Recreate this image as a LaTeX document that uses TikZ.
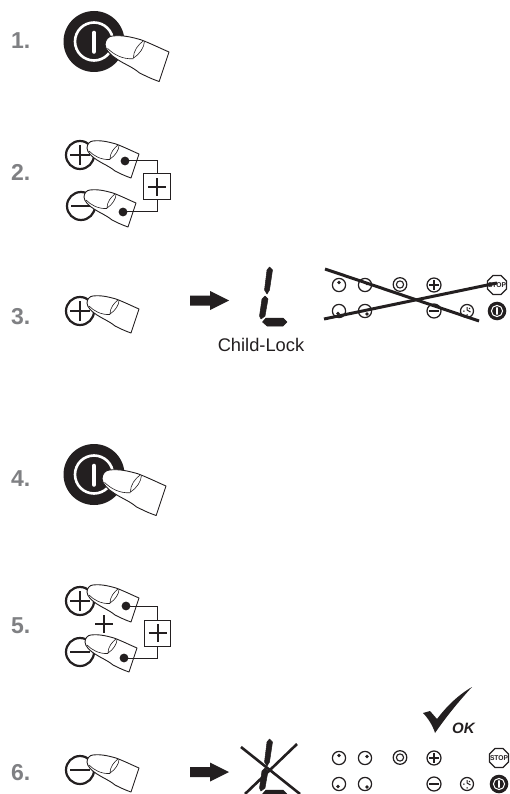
\documentclass[tikz,border=0pt]{standalone}
\usepackage{fontspec}
\setmainfont{Liberation Sans}
\definecolor{ink}{HTML}{231F20}
\definecolor{stepgray}{HTML}{7F8083}
\tikzset{
  x=1pt,y=-1pt,
  steplabel/.style={anchor=base west,inner sep=0pt,text=stepgray,font=\fontsize{23}{23}\selectfont\bfseries},
  fingerline/.style={draw=ink,line width=0.9pt,fill=white,line join=round},
  fingerthin/.style={draw=ink,line width=0.6pt},
  wire/.style={draw=ink,line width=1pt},
  wirebox/.style={draw=ink,line width=1pt,minimum width=26.5pt,minimum height=26pt,inner sep=0pt,fill=white},
  bigplus/.style={draw=ink,line width=2pt},
  ringbtn/.style={draw=ink,line width=2.2pt,fill=white},
  panelbtn/.style={draw=ink,line width=1.25pt,fill=white},
  crossline/.style={draw=ink,line width=3pt},
  segment/.style={fill=ink,draw=ink,line width=0.5pt,line join=round}
}
% finger: #1 x, #2 y of the upper right corner, #3 scale
\newcommand{\fingerat}[3]{%
  \begin{scope}[shift={(#1,#2)},scale=#3]
    \path[fingerline] (-46,-13) .. controls (-38,-14) and (-30,-12) .. (-23,-10)
      .. controls (-15,-7) and (-7,-3) .. (0,0) -- (-8,24)
      .. controls (-14,22) and (-20,19) .. (-24,17)
      .. controls (-30,12) and (-36,10) .. (-42,6)
      .. controls (-47,3) and (-52,-2) .. (-52,-6)
      .. controls (-52,-10) and (-49,-13) .. (-46,-13) -- cycle;
    \draw[fingerthin] (-21,-9) .. controls (-25,-6) and (-29,-1) .. (-29,5);
    \draw[fingerthin] (-20,-8.5) .. controls (-20,-4) and (-24,2) .. (-29,5);
    \draw[fingerthin] (-50,-3) .. controls (-45,2) and (-38,6) .. (-29,5.5);
  \end{scope}}
% large power button
\newcommand{\bigpower}[2]{%
  \fill[ink] (#1,#2) circle[radius=30.5];
  \draw[white,line width=2.6pt] (#1,#2) circle[radius=19];
  \draw[white,line width=4.6pt,line cap=round] (#1,#2-8.5) -- (#1,#2+10);}
\newcommand{\plusbtn}[2]{%
  \draw[ringbtn] (#1,#2) circle[radius=14];
  \draw[bigplus] (#1-10,#2) -- (#1+10,#2) (#1,#2-10) -- (#1,#2+10);}
\newcommand{\minusbtn}[2]{%
  \draw[ringbtn] (#1,#2) circle[radius=14];
  \draw[bigplus] (#1-10,#2) -- (#1+10,#2);}
\newcommand{\dotbtn}[4]{%
  \draw[panelbtn] (#1,#2) circle[radius=6.6];
  \fill[ink] (#1+#3,#2+#4) circle[radius=1.8];}
% control panel: #1 y of the top row, #2 y of the bottom row, #3 x of the right column
\newcommand{\controlpanel}[4]{%
  \dotbtn{339}{#1}{0}{-2.5}
  \dotbtn{365}{#1}{2}{-1.5}
  \dotbtn{339}{#2}{-1}{2.5}
  \dotbtn{365}{#2}{2}{3}
  \draw[panelbtn] (400,#1-0.5) circle[radius=6.8];
  \draw[ink,line width=1.1pt] (400,#1-0.5) circle[radius=3.6];
  \draw[panelbtn] (434,#1) circle[radius=7];
  \draw[ink,line width=1.25pt] (429,#1) -- (439,#1) (434,#1-5) -- (434,#1+5);
  \draw[panelbtn] (434,#2) circle[radius=7];
  \draw[ink,line width=1.25pt] (429,#2) -- (439,#2);
  \draw[panelbtn] (467,#2) circle[radius=6.5];
  \draw[ink,line width=1pt] (467,#2-4) -- (467,#2-1) -- (470.5,#2+1) (463,#2) -- (464.5,#2) (467,#2+3) -- (467,#2+4.5) (470,#2-3) -- (469,#2-2);
  \draw[ink,line width=1.2pt,fill=white] (#3-4,#1-9.5) -- (#3+4,#1-9.5) -- (#3+9.5,#1-4) -- (#3+9.5,#1+4) -- (#3+4,#1+9.5) -- (#3-4,#1+9.5) -- (#3-9.5,#1+4) -- (#3-9.5,#1-4) -- cycle;
  \node[inner sep=0pt,text=ink,font=\fontsize{7}{7}\selectfont\bfseries,xscale=0.95] (#4) at (#3,#1) {STOP};
  \fill[ink] (#3,#2) circle[radius=9.3];
  \draw[white,line width=1pt] (#3,#2) circle[radius=5.6];
  \draw[white,line width=1.4pt,line cap=round] (#3,#2-3.2) -- (#3,#2+3.2);}
\newcommand{\blockarrow}[1]{%
  \fill[ink] (190,#1-5) -- (210,#1-5) -- (210,#1-9.5) -- (229,#1) -- (210,#1+9.5) -- (210,#1+5) -- (190,#1+5) -- cycle;}
\newcommand{\lglyph}[1]{%
  \path[segment] (269.5,#1) -- (272.5,#1+3) -- (269.5,#1+23) -- (267,#1+27) -- (264.5,#1+23) -- (267,#1+3) -- cycle;
  \path[segment] (265,#1+29) -- (268,#1+32) -- (265,#1+49) -- (261,#1+52) -- (259.5,#1+49) -- (262,#1+32) -- cycle;
  \path[segment] (266,#1+51) -- (283,#1+51) -- (287,#1+55) -- (283,#1+59) -- (267,#1+59) -- (262.5,#1+55) -- cycle;}
\begin{document}
\begin{tikzpicture}
\useasboundingbox (0,0) rectangle (510,794);
\clip (0,0) rectangle (510,794);
\fill[white] (0,0) rectangle (510,794);
% labels
\node[steplabel] (n1) at (11,49) {1.};
\node[steplabel] (n2) at (11,181) {2.};
\node[steplabel] (n3) at (11,324) {3.};
\node[steplabel] (n4) at (11,486) {4.};
\node[steplabel] (n5) at (11,633) {5.};
\node[steplabel] (n6) at (11,780) {6.};
% step 1
\bigpower{94}{41.5}
\fingerat{169}{52}{1.23}
% step 2
\plusbtn{80}{155}
\fingerat{139}{154}{1}
\minusbtn{81}{206}
\fingerat{136}{203}{1}
\coordinate (d2a) at (125,161);
\coordinate (d2b) at (123,212);
\node[wirebox] (box2) at (157,187) {};
\draw[wire] (d2a) -| (box2.north);
\draw[wire] (d2b) -| (box2.south);
\fill[ink] (d2a) circle[radius=4.4];
\fill[ink] (d2b) circle[radius=4.4];
\draw[bigplus] ([xshift=-9pt]box2.center) -- ([xshift=9pt]box2.center) ([yshift=-9pt]box2.center) -- ([yshift=9pt]box2.center);
% step 3
\plusbtn{80}{311}
\fingerat{139}{309}{1}
\blockarrow{300.5}
\lglyph{267}
\node[anchor=base,inner sep=0pt,text=ink,font=\fontsize{18.3}{20}\selectfont] (childlock) at (261,351) {Child-Lock};
\controlpanel{285}{311}{497}{stop3}
\draw[crossline] (325,269) -- (479,321);
\draw[crossline] (324,319) -- (497,283);
% step 4
\bigpower{94}{474.5}
\fingerat{166}{486}{1.23}
% step 5
\plusbtn{80}{601}
\fingerat{139}{598}{1}
\draw[bigplus] (95,624) -- (113,624) (104,615) -- (104,633);
\minusbtn{80}{652}
\fingerat{137}{648}{1}
\coordinate (d5a) at (126,606);
\coordinate (d5b) at (124,658);
\node[wirebox] (box5) at (157.5,633) {};
\draw[wire] (d5a) -| (box5.north);
\draw[wire] (d5b) -| (box5.south);
\fill[ink] (d5a) circle[radius=4.4];
\fill[ink] (d5b) circle[radius=4.4];
\draw[bigplus] ([xshift=-9pt]box5.center) -- ([xshift=9pt]box5.center) ([yshift=-9pt]box5.center) -- ([yshift=9pt]box5.center);
% step 6
\minusbtn{80}{770}
\fingerat{139}{768}{1}
\blockarrow{772}
\lglyph{739}
\draw[draw=ink,line width=2.6pt] (241,747) -- (300,794);
\draw[draw=ink,line width=2.6pt] (297,744) -- (245,794);
\controlpanel{758}{784}{499}{stop6}
% OK tick
\fill[ink] (423,713) -- (430,711) -- (437,719) .. controls (446,707) and (458,695) .. (472,687) .. controls (459,701) and (446,717) .. (435,733) .. controls (433,726) and (428,718) .. (423,713) -- cycle;
\node[anchor=base west,inner sep=0pt,text=ink,font=\fontsize{15}{15}\selectfont\itshape\bfseries] (oktext) at (452,733) {OK};
\end{tikzpicture}
\end{document}
